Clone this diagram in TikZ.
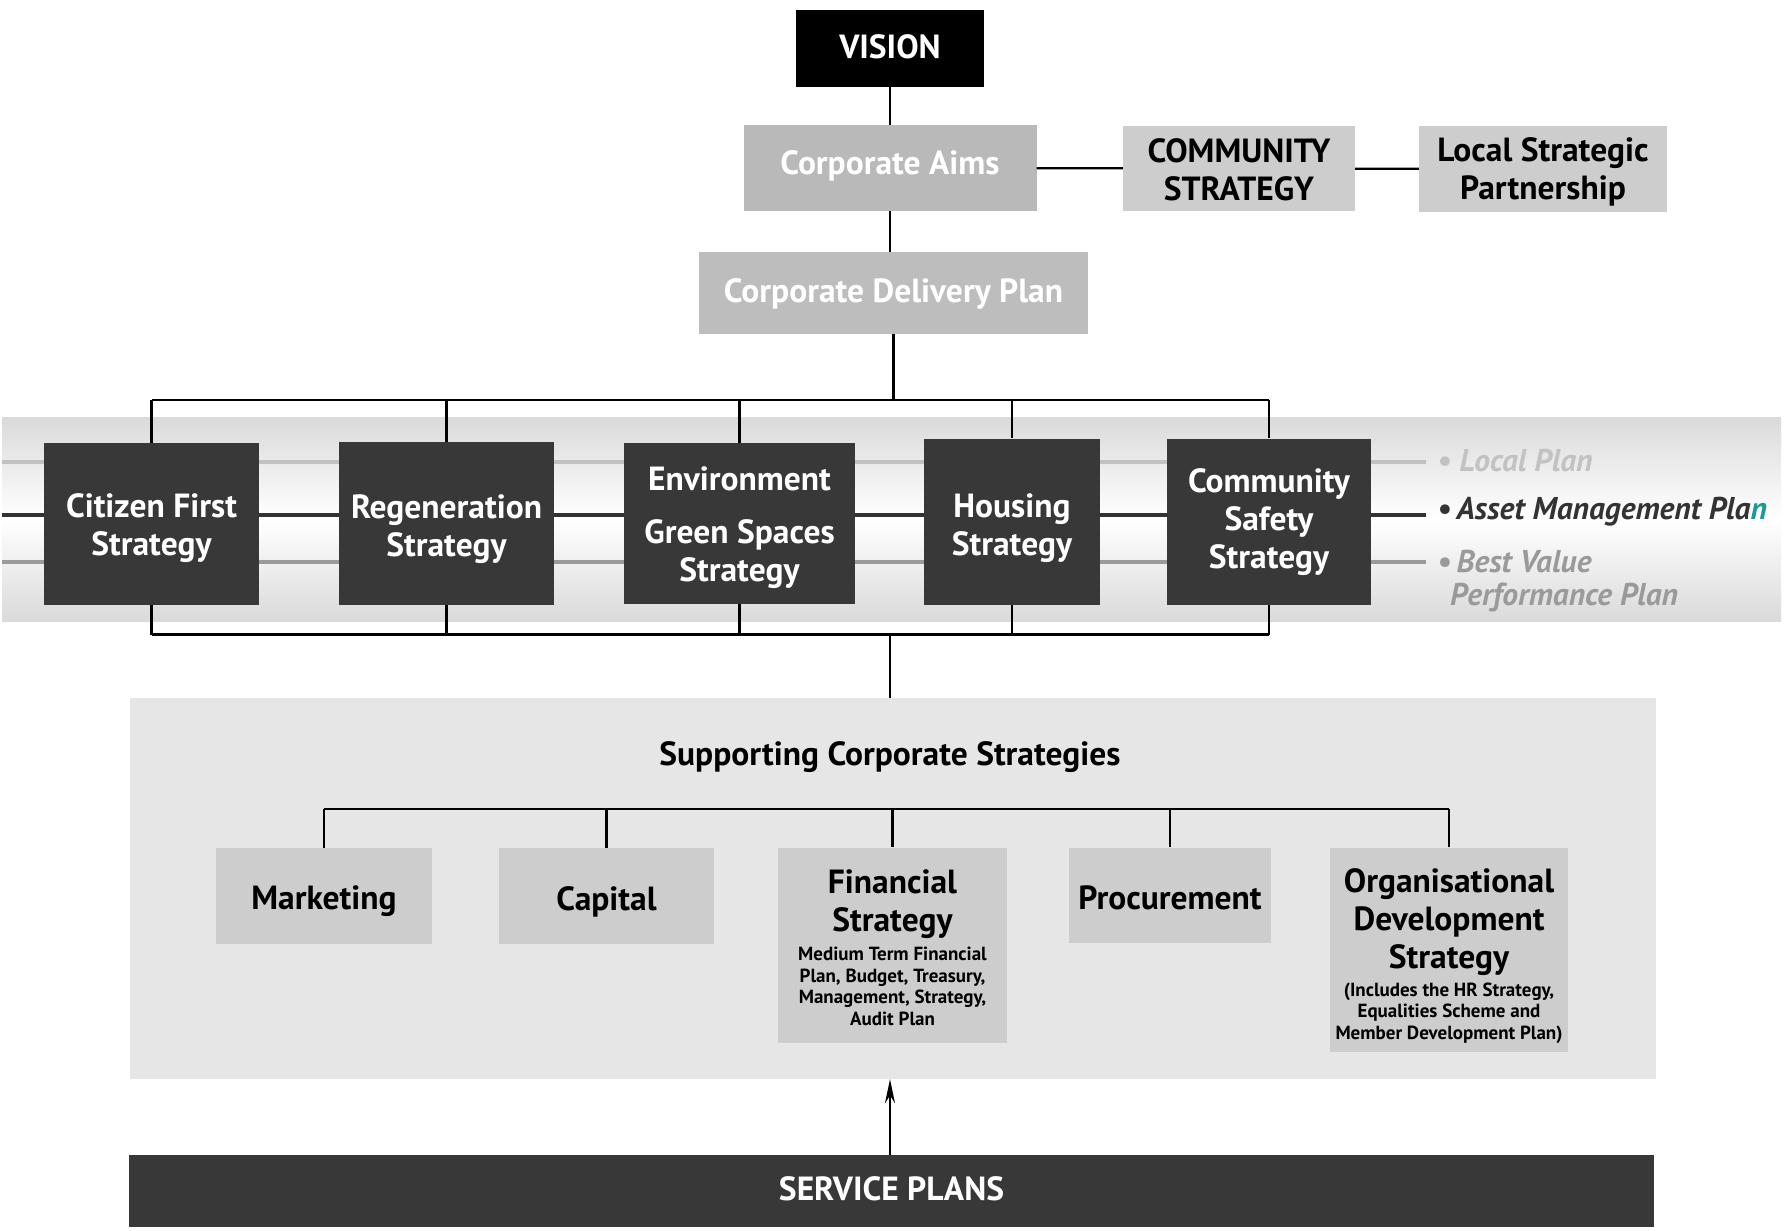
\documentclass[tikz,border=0pt]{standalone}
\usepackage{fontspec}
\setmainfont{PT Sans}
\usetikzlibrary{arrows.meta}

\definecolor{boxdark}{HTML}{383838}
\definecolor{aimsgray}{HTML}{B9B9B9}
\definecolor{plangray}{HTML}{BDBDBD}
\definecolor{boxlight}{HTML}{CDCDCD}
\definecolor{panelgray}{HTML}{E6E6E6}
\definecolor{bandgray}{HTML}{DADADA}
\definecolor{linelight}{HTML}{C2C2C2}
\definecolor{linemid}{HTML}{9A9A9A}
\definecolor{linedark}{HTML}{333333}
\definecolor{tealn}{HTML}{1A9A9A}

\tikzset{
  x=1pt, y=-1pt,
  boxbase/.style={rectangle, inner sep=0pt},
  darkbox/.style={boxbase, fill=boxdark},
  lightbox/.style={boxbase, fill=boxlight},
  titletxt/.style={inner sep=0pt, align=center, font=\bfseries\fontsize{33.5}{38}\selectfont},
  whitetxt/.style={titletxt, text=white},
  desctxt/.style={inner sep=0pt, align=center, font=\bfseries\fontsize{19}{21.5}\selectfont},
  sidetxt/.style={inner sep=0pt, anchor=west, align=left,
    font=\bfseries\itshape\fontsize{31.5}{33}\selectfont},
  link/.style={line width=2.2pt, black},
  bandline/.style={line width=4pt},
}

\begin{document}
\begin{tikzpicture}
\path[use as bounding box, fill=white] (0,0) rectangle (1786,1231);

% --- top of the hierarchy ---
\node[boxbase, fill=black, minimum width=188, minimum height=77] (vision) at (890,48.5) {};
\node[boxbase, fill=aimsgray, minimum width=293, minimum height=86] (aims) at (890,168) {};
\node[lightbox, minimum width=232, minimum height=85] (community) at (1239,168.5) {};
\node[lightbox, minimum width=248, minimum height=86] (lsp) at (1543,169) {};
\node[boxbase, fill=plangray, minimum width=389, minimum height=82] (cdp) at (893.5,293) {};

\node[whitetxt] (visiontxt) at ([yshift=2pt]vision.center) {VISION};
\node[whitetxt] (aimstxt) at ([yshift=2pt]aims.center) {Corporate Aims};
\node[titletxt] (communitytxt) at ([yshift=-1pt]community.center) {COMMUNITY\\STRATEGY};
\node[titletxt] (lsptxt) at ([yshift=-3pt]lsp.center) {Local Strategic\\Partnership};
\node[whitetxt] (cdptxt) at ([yshift=-1pt]cdp.center) {Corporate Delivery Plan};

\draw[link] (vision) -- (aims);
\draw[link] (aims) -- (community);
\draw[link] (community) -- (lsp);
\draw[link] (aims.south) -- (aims.south |- cdp.north);

% --- strategy band ---
\shade[top color=bandgray, bottom color=bandgray, middle color=white] (2,417) rectangle (1781,621);
\draw[bandline, linelight] (2,462) -- (1426,462);
\draw[bandline, linedark]  (2,515) -- (1426,515);
\draw[bandline, linemid]   (2,561.5) -- (1426,561.5);

\node[darkbox, minimum width=215, minimum height=162] (citizen) at (151.5,524) {};
\node[darkbox, minimum width=215, minimum height=163] (regen) at (446.5,523.5) {};
\node[darkbox, minimum width=231, minimum height=161] (env) at (739.5,523.5) {};
\node[darkbox, minimum width=176, minimum height=166.5] (housing) at (1012,521.8) {};
\node[darkbox, minimum width=203.5, minimum height=166.5] (safety) at (1269,521.8) {};

\node[whitetxt] (citizentxt) at ([yshift=-4.5pt]citizen.center) {Citizen First\\Strategy};
\node[whitetxt] (regentxt) at ([yshift=-5.5pt]regen.center) {Regeneration\\Strategy};
\node[whitetxt] (envtxt) at ([yshift=-4.5pt]env.center) {Environment\\[15pt]Green Spaces\\Strategy};
\node[whitetxt] (housingtxt) at ([yshift=-6.5pt]housing.center) {Housing\\Strategy};
\node[whitetxt] (safetytxt) at (safety.center) {Community\\Safety\\Strategy};

\coordinate (topbus) at (890,400);
\coordinate (botbus) at (890,634.5);
\draw[link] (cdp.south) -- (cdp.south |- topbus);
\draw[link] (citizen.north |- topbus) -- (safety.north |- topbus);
\draw[link] (citizen.south |- botbus) -- (safety.south |- botbus);
\foreach \n in {citizen,regen,env,housing,safety}{
  \draw[link] (\n.north) -- (\n.north |- topbus);
  \draw[link] (\n.south) -- (\n.south |- botbus);
}

% side plans
\node[sidetxt, text=linelight] (local) at (1437,461) {\textbullet\ Local Plan};
\node[sidetxt, text=linedark] (asset) at (1437,512) {\textbullet\,Asset Management Pla{\color{tealn}n}};
\node[sidetxt, text=linemid, anchor=north west] (bestvalue) at (1437,549.5) {\textbullet\,Best Value\\\hspace*{13pt}Performance Plan};

% --- supporting corporate strategies ---
\node[fill=panelgray, minimum width=1526, minimum height=381, inner sep=0pt] (panel) at (893,888.5) {};
\draw[link] (botbus) -- (botbus |- panel.north);

\node[titletxt] (supporting) at (890,757) {Supporting Corporate Strategies};

\node[lightbox, minimum width=216, minimum height=95.5] (marketing) at (324,896) {};
\node[lightbox, minimum width=215, minimum height=95.5] (capital) at (606.5,896) {};
\node[lightbox, minimum width=229, minimum height=195.5] (financial) at (892.5,945.3) {};
\node[lightbox, minimum width=201.5, minimum height=95.5] (procurement) at (1170,895.3) {};
\node[lightbox, minimum width=238, minimum height=204.5] (orgdev) at (1449,949.8) {};

\node[titletxt] (marketingtxt) at ([yshift=-5.5pt]marketing.center) {Marketing};
\node[titletxt] (capitaltxt) at ([yshift=-5.5pt]capital.center) {Capital};
\node[titletxt] (procurementtxt) at ([yshift=-2.5pt]procurement.center) {Procurement};
\node[titletxt] (fintitle) at (892.5,904) {Financial\\Strategy};
\node[desctxt] (findesc) at (892.5,986.5) {Medium Term Financial\\Plan, Budget, Treasury,\\Management, Strategy,\\Audit Plan};
\node[titletxt] (orgtitle) at (1449,922) {Organisational\\Development\\Strategy};
\node[desctxt] (orgdesc) at (1449,1013) {(Includes the HR Strategy,\\Equalities Scheme and\\Member Development Plan)};

\coordinate (supbus) at (890,809);
\draw[link] (marketing.north |- supbus) -- (orgdev.north |- supbus);
\foreach \n in {marketing,capital,financial,procurement,orgdev}{
  \draw[link] (\n.north) -- (\n.north |- supbus);
}

% --- service plans ---
\node[darkbox, minimum width=1525, minimum height=72] (service) at (891.5,1191) {};
\node[whitetxt] (servicetxt) at ([yshift=2pt]service.center) {SERVICE PLANS};
\draw[link, -{Stealth[length=24pt, width=10pt]}] (service.north -| supbus) -- (supbus |- panel.south);

\end{tikzpicture}
\end{document}
